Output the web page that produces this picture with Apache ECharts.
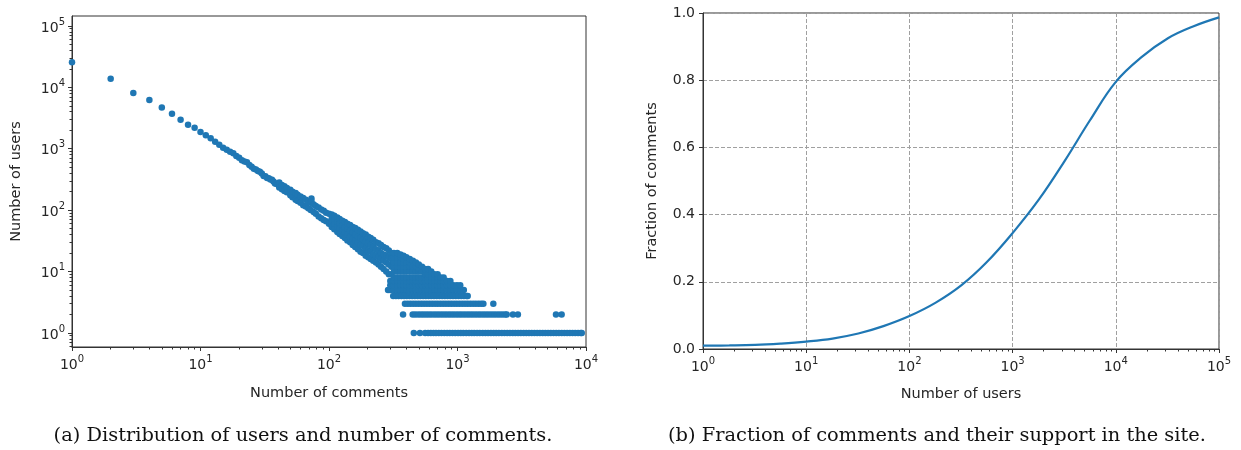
<!DOCTYPE html>
<html>
<head>
<meta charset="utf-8">
<script src="https://cdn.jsdelivr.net/npm/echarts@6/dist/echarts.min.js"></script>
<style>
  html, body { margin: 0; padding: 0; background: #fff; }
  #chart { width: 1241px; height: 450px; }
</style>
</head>
<body>
<div id="chart"></div>
<script>
// (a) users with 1..40 comments, one dot per count
const headComments = [1, 2, 3, 4, 5, 6, 7, 8, 9, 10,
  11, 12, 13, 14, 15, 16, 17, 18, 19, 20,
  21, 22, 23, 24, 25, 26, 27, 28, 29, 30,
  31, 32, 33, 34, 35, 36, 37, 38, 39, 40];
const headUsers = [25700, 13800, 8100, 6200, 4700, 3700, 2950, 2460, 2200, 1870,
  1650, 1480, 1300, 1160, 1040, 960, 890, 840, 760, 710,
  650, 620, 600, 545, 510, 470, 460, 435, 420, 395,
  360, 355, 335, 330, 315, 312, 292, 272, 270, 262];

// the dense cloud: [comments, users, users, ...]
const cloudColumns = [
  [41, 282, 234], [43, 257, 219], [45, 245, 204], [47, 229, 195], [50, 214, 174],
  [52, 200, 162], [55, 190, 148], [57, 178, 141], [60, 166, 132], [63, 158, 120],
  [66, 148, 115], [69, 138, 107], [72, 132, 100], [73, 155, 140], [76, 123, 93],
  [79, 117, 87], [83, 110, 79], [87, 102, 74], [91, 98, 69], [95, 91, 66], [100, 87, 60],
  [105, 85, 73, 62, 53], [110, 81, 68, 58, 49], [116, 76, 63, 53, 44], [121, 72, 60, 50, 41],
  [127, 67, 56, 46, 38], [133, 64, 52, 43, 35], [139, 60, 49, 40, 32], [146, 57, 46, 37, 30],
  [153, 53, 43, 34, 27], [160, 51, 40, 32, 25], [168, 48, 37, 30, 23], [176, 45, 35, 27, 21],
  [184, 42, 33, 26, 20], [193, 40, 31, 24, 18], [202, 37, 29, 22, 17], [211, 35, 27, 21, 16],
  [221, 33, 25, 19, 15], [232, 30, 23, 18, 14], [243, 29, 22, 17, 13], [254, 27, 20, 16, 12],
  [266, 25, 19, 15, 11], [279, 24, 18, 14, 10], [288, 5], [292, 22, 17, 13, 9],
  [300, 5, 6, 7], [306, 20, 16, 12, 9],
  [320, 5, 6, 7, 8, 10, 12, 14, 17, 20], [340, 5, 6, 7, 8, 10, 12, 14, 17, 20],
  [360, 5, 6, 7, 8, 10, 12, 14, 17, 19], [380, 5, 6, 7, 8, 10, 12, 14, 16, 18],
  [400, 5, 6, 7, 8, 10, 12, 14, 17], [425, 5, 6, 7, 8, 10, 12, 14, 16],
  [450, 5, 6, 7, 8, 10, 12, 15], [475, 5, 6, 7, 8, 10, 12, 14],
  [500, 5, 6, 7, 8, 10, 11, 13], [530, 5, 6, 7, 8, 10, 12],
  [560, 5, 6, 7, 8, 9, 11], [590, 5, 6, 7, 8, 9, 11], [625, 5, 6, 7, 8, 10],
  [660, 5, 6, 7, 8, 9], [700, 5, 6, 7, 8, 9], [740, 5, 6, 7, 8], [780, 5, 6, 7, 8],
  [830, 5, 6, 7], [880, 5, 6, 7], [930, 5, 6], [990, 5, 6], [1050, 5, 6], [1120, 5]
];

// horizontal bands: comment counts held by exactly 1, 2, 3, 4 users
const oneUser = [457, 510, 560, 590, 620, 650, 680, 715, 750, 790, 830, 870, 915, 960,
  1010, 1060, 1110, 1170, 1230, 1290, 1350, 1420, 1490, 1570, 1650, 1730, 1820, 1910,
  2000, 2100, 2210, 2320, 2440, 2560, 2690, 2820, 2960, 3110, 3270, 3430, 3600, 3780,
  3970, 4170, 4380, 4600, 4830, 5070, 5320, 5590, 5870, 6160, 6470, 6790, 7130, 7490,
  7860, 8250, 8670, 9100, 9270];
const twoUsers = [377, 448, 470, 495, 520, 545, 572, 600, 630, 662, 695, 730, 767, 805,
  845, 887, 931, 978, 1027, 1078, 1132, 1189, 1248, 1310, 1376, 1445, 1517, 1593, 1672,
  1756, 1844, 1936, 2033, 2135, 2240, 2350, 2415, 2700, 2950, 5840, 6460];
const threeUsers = [390, 410, 430, 452, 475, 499, 524, 550, 578, 607, 637, 669, 702, 737,
  774, 813, 854, 896, 941, 988, 1037, 1089, 1144, 1200, 1260, 1323, 1390, 1460, 1530,
  1590, 1900];
const fourUsers = [316, 332, 348, 366, 384, 403, 423, 444, 466, 490, 514, 540, 567, 595,
  625, 656, 689, 723, 760, 797, 837, 879, 923, 969, 1018, 1069, 1122, 1178, 1200];

// (b) cumulative fraction of comments vs number of users
const usersAxis = [1, 1.8, 3.2, 5.6, 10, 18, 32, 56, 100, 180, 320, 560, 1000, 1800,
  3200, 5600, 10000, 18000, 32000, 56000, 100000];
const commentFraction = [0.010, 0.0105, 0.012, 0.016, 0.022, 0.031, 0.046, 0.068, 0.098,
  0.138, 0.19, 0.258, 0.345, 0.445, 0.56, 0.68, 0.795, 0.87, 0.925, 0.96, 0.987];

// tick values
const commentTicks = [1, 10, 100, 1000, 10000];
const userTicks = [1, 10, 100, 1000, 10000, 100000];
const fractionTicks = [0, 0.2, 0.4, 0.6, 0.8, 1.0];
const minorSteps = [2, 3, 4, 5, 6, 7, 8, 9];

function minorsFor(decades) {
  const out = [];
  decades.forEach(function (d) {
    minorSteps.forEach(function (s) { out.push(d * s); });
  });
  return out;
}
const commentMinor = minorsFor([1, 10, 100, 1000]);
const userMinor = [0.6, 0.7, 0.8, 0.9].concat(minorsFor([1, 10, 100, 1000, 10000]));
const usersAxisMinor = minorsFor([1, 10, 100, 1000, 10000]);

// scatter points
const scatterData = [];
headComments.forEach(function (c, i) { scatterData.push([c, headUsers[i]]); });
cloudColumns.forEach(function (col) {
  for (let i = 1; i < col.length; i++) scatterData.push([col[0], col[i]]);
});
[[oneUser, 1], [twoUsers, 2], [threeUsers, 3], [fourUsers, 4]].forEach(function (band) {
  band[0].forEach(function (c) { scatterData.push([c, band[1]]); });
});
const lineData = usersAxis.map(function (u, i) { return [u, commentFraction[i]]; });

const font = "DejaVu Sans";
const textColor = "#262626";
const axisColor = "#333";

function powLabel(v) {
  const e = Math.round(Math.log10(v));
  return "{b|10}{s|" + e + "}";
}
const powRich = {
  b: { fontSize: 14, fontFamily: font, color: textColor, lineHeight: 18, verticalAlign: "bottom" },
  s: { fontSize: 10, fontFamily: font, color: textColor, lineHeight: 10, verticalAlign: "top" },
};
const nameStyle = { fontFamily: font, fontSize: 14.5, color: textColor };

function mainAxis(extra) {
  return Object.assign({
    axisLine: { show: true, lineStyle: { color: axisColor, width: 1 } },
    splitLine: { show: false },
    nameLocation: "middle",
    nameTextStyle: nameStyle,
  }, extra);
}
// a second, invisible axis on the same side only to carry the short minor ticks
function minorAxis(extra, ticks) {
  return Object.assign({
    axisLine: { show: false },
    axisLabel: { show: false },
    splitLine: { show: false },
    axisTick: { show: true, length: 2.5, customValues: ticks, lineStyle: { color: axisColor, width: 1 } },
  }, extra);
}

const gridLine = { show: true, lineStyle: { type: [4, 2], color: "#a0a0a0", width: 1 } };

const chart = echarts.init(document.getElementById("chart"));
chart.setOption({
  backgroundColor: "#fff",
  animation: false,
  grid: [
    { left: 72, top: 16, width: 514, height: 331, show: true, borderColor: axisColor, borderWidth: 1 },
    { left: 703, top: 13, width: 516, height: 336, show: true, borderColor: axisColor, borderWidth: 1 },
  ],
  xAxis: [
    mainAxis({
      gridIndex: 0, type: "log", logBase: 10, min: 1, max: 10000, position: "bottom",
      name: "Number of comments", nameGap: 39,
      axisTick: { show: true, length: 4, customValues: commentTicks, lineStyle: { color: axisColor } },
      axisLabel: { customValues: commentTicks, formatter: powLabel, rich: powRich, margin: 7 },
    }),
    minorAxis({ gridIndex: 0, type: "log", logBase: 10, min: 1, max: 10000, position: "bottom" }, commentMinor),
    mainAxis({
      gridIndex: 1, type: "log", logBase: 10, min: 1, max: 100000, position: "bottom",
      name: "Number of users", nameGap: 38,
      axisTick: { show: true, length: 4, customValues: userTicks, lineStyle: { color: axisColor } },
      axisLabel: { customValues: userTicks, formatter: powLabel, rich: powRich, margin: 7 },
      splitLine: gridLine,
    }),
    minorAxis({ gridIndex: 1, type: "log", logBase: 10, min: 1, max: 100000, position: "bottom" }, usersAxisMinor),
  ],
  yAxis: [
    mainAxis({
      gridIndex: 0, type: "log", logBase: 10, min: 0.59, max: 145000, position: "left",
      name: "Number of users", nameGap: 48,
      axisTick: { show: true, length: 4, customValues: userTicks, lineStyle: { color: axisColor } },
      axisLabel: { customValues: userTicks, formatter: powLabel, rich: powRich, margin: 7 },
    }),
    minorAxis({ gridIndex: 0, type: "log", logBase: 10, min: 0.59, max: 145000, position: "left" }, userMinor),
    mainAxis({
      gridIndex: 1, type: "value", min: 0, max: 1, interval: 0.2, position: "left",
      name: "Fraction of comments", nameGap: 43,
      axisTick: { show: true, length: 4, customValues: fractionTicks, lineStyle: { color: axisColor } },
      axisLabel: {
        customValues: fractionTicks, margin: 8, fontFamily: font, fontSize: 14, color: textColor,
        formatter: function (v) { return v.toFixed(1); },
      },
      splitLine: gridLine,
    }),
  ],
  series: [
    {
      name: "users",
      type: "scatter",
      xAxisIndex: 0,
      yAxisIndex: 0,
      symbol: "circle",
      symbolSize: 6.5,
      itemStyle: { color: "#1f77b4", opacity: 1 },
      data: scatterData,
    },
    {
      name: "fraction",
      type: "line",
      xAxisIndex: 2,
      yAxisIndex: 2,
      smooth: 0.4,
      showSymbol: false,
      lineStyle: { color: "#1f77b4", width: 2.2 },
      data: lineData,
    },
  ],
  graphic: [
    {
      type: "text", x: 303, y: 436,
      style: {
        text: "(a) Distribution of users and number of comments.",
        font: '19.4px "DejaVu Serif"', fill: "#111", textAlign: "center", textVerticalAlign: "middle",
      },
    },
    {
      type: "text", x: 937, y: 436,
      style: {
        text: "(b) Fraction of comments and their support in the site.",
        font: '19.4px "DejaVu Serif"', fill: "#111", textAlign: "center", textVerticalAlign: "middle",
      },
    },
  ],
});
</script>
</body>
</html>
